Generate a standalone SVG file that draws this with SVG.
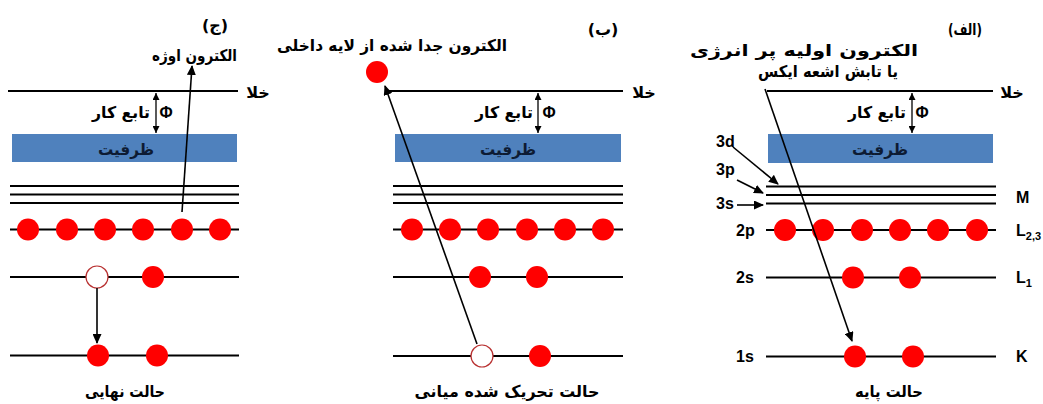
<svg xmlns="http://www.w3.org/2000/svg" width="1043" height="404" viewBox="0 0 1043 404">
<style>
.lvl{stroke:#000;stroke-width:2.2;fill:none}
.vac{stroke:#000;stroke-width:2;fill:none}
.band{fill:#4F81BD}
.e{fill:#FF0000}
.h{fill:#fff;stroke:#B83030;stroke-width:1.2}
.ar{font-family:'DejaVu Sans',sans-serif;font-weight:bold;font-size:16px;fill:#000;text-anchor:middle}
.bt{fill:#0d1b33}
.la{font-family:'Liberation Sans',Arial,sans-serif;font-weight:bold;font-size:16px;fill:#000}
.sub{font-size:11px}
.con{stroke:#000;stroke-width:1.6;fill:none}
.wf{stroke:#000;stroke-width:1.3;fill:none}
</style>
<defs>
<marker id="ah" markerUnits="userSpaceOnUse" markerWidth="10" markerHeight="9" refX="9" refY="4.5" orient="auto"><path d="M0,0 L10,4.5 L0,9 z" fill="#000"/></marker>
<marker id="ahs" markerUnits="userSpaceOnUse" markerWidth="7" markerHeight="7" refX="7" refY="3.5" orient="auto-start-reverse"><path d="M0,0 L7,3.5 L0,7 z" fill="#000"/></marker>
</defs>
<rect width="1043" height="404" fill="#fff"/>

<!-- Panel ج (final state) -->
<g id="panel-c">
<text class="ar" x="215" y="31">(ج)</text>
<g id="c-auger-label"><text class="ar" x="194.5" y="61" font-size="15" textLength="85" lengthAdjust="spacingAndGlyphs">الکترون اوژه</text></g>
<g id="c-vacuum"><line class="vac" x1="8" y1="91" x2="238" y2="91"/><text class="ar" x="258" y="98" font-size="17">خلا</text></g>
<g id="c-wf"><text class="ar" x="121" y="118" textLength="58" lengthAdjust="spacingAndGlyphs">تابع کار</text><text class="la" x="166" y="118" text-anchor="middle" font-size="17">Φ</text></g>
<g id="c-valence"><rect class="band" x="12" y="134" width="225" height="28"/><text class="ar bt" x="126" y="155" textLength="56" lengthAdjust="spacingAndGlyphs">ظرفیت</text></g>
<g id="c-M"><line class="lvl" x1="10" y1="186" x2="239" y2="186"/><line class="lvl" x1="10" y1="194.5" x2="239" y2="194.5"/><line class="lvl" x1="10" y1="203" x2="239" y2="203"/></g>
<g id="c-L23"><line class="lvl" x1="10" y1="229.5" x2="239" y2="229.5"/>
<circle class="e" cx="28" cy="229.5" r="11"/><circle class="e" cx="67" cy="229.5" r="11"/><circle class="e" cx="105" cy="229.5" r="11"/><circle class="e" cx="143" cy="229.5" r="11"/><circle class="e" cx="182" cy="229.5" r="11"/><circle class="e" cx="220" cy="229.5" r="11"/></g>
<g id="c-L1"><line class="lvl" x1="10" y1="277" x2="239" y2="277"/><circle class="h" cx="97" cy="277" r="11"/><circle class="e" cx="153" cy="277" r="11"/></g>
<g id="c-K"><line class="lvl" x1="10" y1="355.5" x2="239" y2="355.5"/><circle class="e" cx="98" cy="355.5" r="11"/><circle class="e" cx="157" cy="355.5" r="11"/></g>
<text class="ar" x="125" y="397" font-size="15" textLength="80" lengthAdjust="spacingAndGlyphs">حالت نهایی</text>
</g>

<!-- Panel ب (intermediate excited state) -->
<g id="panel-b">
<text class="ar" x="603" y="35">(ب)</text>
<g id="b-ejected"><text class="ar" x="392" y="51" textLength="230" lengthAdjust="spacingAndGlyphs">الکترون جدا شده از لایه داخلی</text><circle class="e" cx="377" cy="72" r="11"/></g>
<g id="b-vacuum"><line class="vac" x1="387" y1="91" x2="623" y2="91"/><text class="ar" x="644" y="98" font-size="17">خلا</text></g>
<g id="b-wf"><text class="ar" x="504" y="118" textLength="58" lengthAdjust="spacingAndGlyphs">تابع کار</text><text class="la" x="549" y="118" text-anchor="middle" font-size="17">Φ</text></g>
<g id="b-valence"><rect class="band" x="395" y="134" width="226" height="28"/><text class="ar bt" x="508" y="155" textLength="56" lengthAdjust="spacingAndGlyphs">ظرفیت</text></g>
<g id="b-M"><line class="lvl" x1="393" y1="186" x2="623" y2="186"/><line class="lvl" x1="393" y1="194.5" x2="623" y2="194.5"/><line class="lvl" x1="393" y1="203" x2="623" y2="203"/></g>
<g id="b-L23"><line class="lvl" x1="393" y1="229.5" x2="623" y2="229.5"/>
<circle class="e" cx="412" cy="229.5" r="11"/><circle class="e" cx="450" cy="229.5" r="11"/><circle class="e" cx="488" cy="229.5" r="11"/><circle class="e" cx="527" cy="229.5" r="11"/><circle class="e" cx="565" cy="229.5" r="11"/><circle class="e" cx="603" cy="229.5" r="11"/></g>
<g id="b-L1"><line class="lvl" x1="393" y1="277" x2="623" y2="277"/><circle class="e" cx="480" cy="277" r="11"/><circle class="e" cx="537" cy="277" r="11"/></g>
<g id="b-K"><line class="lvl" x1="393" y1="356" x2="623" y2="356"/><circle class="h" cx="482" cy="356" r="11"/><circle class="e" cx="540" cy="356" r="11"/></g>
<text class="ar" x="507" y="397" textLength="185" lengthAdjust="spacingAndGlyphs">حالت تحریک شده میانی</text>
</g>

<!-- Panel الف (ground state) -->
<g id="panel-a">
<text class="ar" x="965" y="35" font-size="14" textLength="34" lengthAdjust="spacingAndGlyphs">(الف)</text>
<g id="a-primary"><text class="ar" x="804" y="56" font-size="18" textLength="228" lengthAdjust="spacingAndGlyphs">الکترون اولیه پر انرژی</text><text class="ar" x="828" y="77" font-size="15" textLength="140" lengthAdjust="spacingAndGlyphs">یا تابش اشعه ایکس</text></g>
<g id="a-vacuum"><line class="vac" x1="767" y1="91" x2="993" y2="91"/><text class="ar" x="1012" y="98" font-size="17">خلا</text></g>
<g id="a-wf"><text class="ar" x="877" y="118" textLength="58" lengthAdjust="spacingAndGlyphs">تابع کار</text><text class="la" x="922" y="118" text-anchor="middle" font-size="17">Φ</text></g>
<g id="a-valence"><rect class="band" x="768" y="134" width="225" height="29"/><text class="ar bt" x="880" y="155" textLength="56" lengthAdjust="spacingAndGlyphs">ظرفیت</text></g>
<g id="a-M"><line class="lvl" x1="766" y1="186.5" x2="996" y2="186.5"/><line class="lvl" x1="766" y1="195" x2="996" y2="195"/><line class="lvl" x1="766" y1="203.5" x2="996" y2="203.5"/>
<text class="la" x="716" y="147">3d</text><text class="la" x="716" y="175">3p</text><text class="la" x="716" y="209">3s</text><text class="la" x="1016" y="203">M</text></g>
<g id="a-L23"><line class="lvl" x1="766" y1="230" x2="996" y2="230"/>
<circle class="e" cx="785" cy="230" r="11"/><circle class="e" cx="823" cy="230" r="11"/><circle class="e" cx="862" cy="230" r="11"/><circle class="e" cx="900" cy="230" r="11"/><circle class="e" cx="938" cy="230" r="11"/><circle class="e" cx="977" cy="230" r="11"/>
<text class="la" x="736" y="236">2p</text><text class="la" x="1016" y="236">L<tspan class="sub" dy="4">2,3</tspan></text></g>
<g id="a-L1"><line class="lvl" x1="766" y1="277.5" x2="996" y2="277.5"/><circle class="e" cx="853" cy="277.5" r="11"/><circle class="e" cx="910" cy="277.5" r="11"/>
<text class="la" x="736" y="283">2s</text><text class="la" x="1016" y="283">L<tspan class="sub" dy="4">1</tspan></text></g>
<g id="a-K"><line class="lvl" x1="766" y1="356.5" x2="996" y2="356.5"/><circle class="e" cx="855" cy="356.5" r="11"/><circle class="e" cx="913" cy="356.5" r="11"/>
<text class="la" x="736" y="362">1s</text><text class="la" x="1016" y="362">K</text></g>
<text class="ar" x="889" y="397" font-size="15" textLength="68" lengthAdjust="spacingAndGlyphs">حالت پایه</text>
</g>

<!-- Connectors -->
<g id="connectors">
<line class="wf" x1="156" y1="93" x2="156" y2="133" marker-start="url(#ahs)" marker-end="url(#ahs)"/>
<line class="wf" x1="538" y1="93" x2="538" y2="133" marker-start="url(#ahs)" marker-end="url(#ahs)"/>
<line class="wf" x1="912" y1="93" x2="912" y2="133" marker-start="url(#ahs)" marker-end="url(#ahs)"/>
<line class="con" x1="182" y1="212" x2="192" y2="66" marker-end="url(#ah)"/>
<line class="con" x1="97" y1="288" x2="97" y2="343" marker-end="url(#ah)"/>
<line class="con" x1="477" y1="344" x2="385" y2="86" marker-end="url(#ah)"/>
<line class="con" x1="765" y1="89" x2="852" y2="341" marker-end="url(#ah)"/>
<line class="con" x1="733" y1="147" x2="778" y2="184" marker-end="url(#ah)" stroke-width="1.4"/>
<line class="con" x1="737" y1="180" x2="763" y2="193" marker-end="url(#ah)" stroke-width="1.4"/>
<line class="con" x1="737" y1="205" x2="763" y2="205" marker-end="url(#ah)" stroke-width="1.4"/>
</g>
</svg>
